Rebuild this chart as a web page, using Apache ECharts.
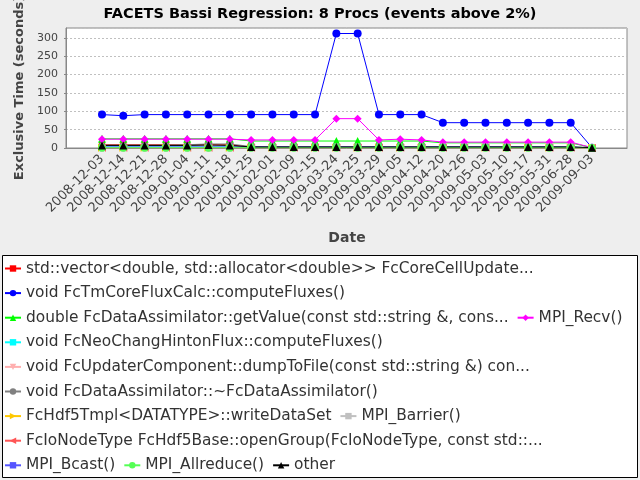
<!DOCTYPE html>
<html lang="en">
<head>
    <meta charset="UTF-8">
    <title>FACETS Bassi Regression: 8 Procs</title>
    <script src="https://cdnjs.cloudflare.com/ajax/libs/echarts/6.0.0/echarts.min.js"></script>
    <style>
        body { margin: 0; padding: 0; background: #eeeeee; }
        #chart { width: 640px; height: 480px; }
    </style>
</head>
<body>
    <div id="chart"></div>
    <script>
        // dates (categories)
        const dates = ['2008-12-03', '2008-12-14', '2008-12-21', '2008-12-28', '2009-01-04', '2009-01-11',
            '2009-01-18', '2009-01-25', '2009-02-01', '2009-02-09', '2009-02-15', '2009-03-24',
            '2009-03-25', '2009-03-29', '2009-04-05', '2009-04-12', '2009-04-20', '2009-04-26',
            '2009-05-03', '2009-05-10', '2009-05-17', '2009-05-31', '2009-06-28', '2009-09-03'];

        // series names, in legend order
        const names = [
            'std::vector<double, std::allocator<double>> FcCoreCellUpdate...',
            'void FcTmCoreFluxCalc::computeFluxes()',
            'double FcDataAssimilator::getValue(const std::string &, cons...',
            'MPI_Recv()',
            'void FcNeoChangHintonFlux::computeFluxes()',
            'void FcUpdaterComponent::dumpToFile(const std::string &) con...',
            'void FcDataAssimilator::~FcDataAssimilator()',
            'FcHdf5Tmpl<DATATYPE>::writeDataSet',
            'MPI_Barrier()',
            'FcIoNodeType FcHdf5Base::openGroup(FcIoNodeType, const std::...',
            'MPI_Bcast()',
            'MPI_Allreduce()',
            'other'
        ];

        // exclusive time (seconds)
        const coreCellUpdate = [9, 9, 9, 9, 9, 9, 9, 2, 2, 2, 2, 2, 2, 2, 2, 2, 2, 2, 2, 2, 2, 2, 2, 0];
        const tmCoreFlux = [91, 88, 91, 91, 91, 91, 91, 91, 91, 91, 91, 312, 312, 91, 91, 91, 69, 69, 69, 69, 69, 69, 69, 1];
        const getValue = [25, 25, 25, 25, 25, 25, 25, 19, 19, 19, 19, 19, 19, 19, 19, 19, 14, 14, 14, 14, 14, 14, 14, 1];
        const mpiRecv = [24, 24, 24, 24, 24, 24, 24, 22, 22, 22, 22, 80, 80, 22, 24, 22, 16, 16, 16, 16, 16, 16, 16, 1];
        const neoChangHinton = [3, 3, 3, 3, 3, 3, 3, 2, 2, 2, 2, 2, 2, 2, 2, 2, 2, 2, 2, 2, 2, 2, 2, 0];
        const dumpToFile = [1, 1, 1, 1, 1, 1, 1, 1, 1, 1, 1, 1, 1, 1, 1, 1, 1, 1, 1, 1, 1, 1, 1, 0];
        const dataAssimDtor = [8, 8, 8, 8, 9, 11, 11, 4, 2, 2, 2, 2, 2, 2, 2, 2, 2, 2, 2, 2, 2, 2, 2, 0];
        const writeDataSet = [1, 1, 1, 1, 1, 1, 1, 1, 1, 1, 1, 1, 1, 1, 1, 1, 1, 1, 1, 1, 1, 1, 1, 0];
        const mpiBarrier = [1, 1, 1, 1, 1, 1, 1, 1, 1, 1, 1, 1, 1, 1, 1, 1, 1, 1, 1, 1, 1, 1, 1, 0];
        const openGroup = [1, 1, 1, 1, 1, 1, 1, 1, 1, 1, 1, 1, 1, 1, 1, 1, 1, 1, 1, 1, 1, 1, 1, 0];
        const mpiBcast = [3, 3, 3, 3, 3, 3, 3, 3, 3, 3, 3, 3, 3, 3, 3, 3, 3, 3, 3, 3, 3, 3, 3, 0];
        const mpiAllreduce = [1, 1, 1, 1, 1, 1, 1, 1, 1, 1, 1, 1, 1, 1, 1, 1, 1, 1, 1, 1, 1, 1, 1, 0];
        const other = [7, 7, 7, 7, 7, 8, 7, 3, 3, 3, 3, 3, 3, 3, 3, 3, 3, 3, 3, 3, 3, 3, 3, 1];

        const values = [coreCellUpdate, tmCoreFlux, getValue, mpiRecv, neoChangHinton, dumpToFile,
            dataAssimDtor, writeDataSet, mpiBarrier, openGroup, mpiBcast, mpiAllreduce, other];

        // jfreechart-like palette and shapes
        const colors = ['#ff0000', '#0000ff', '#00ff00', '#ff00ff', '#00ffff', '#ffafaf', '#808080',
            '#ffc800', '#c0c0c0', '#ff5555', '#5555ff', '#55ff55', '#000000'];
        const shapes = [
            { symbol: 'rect', size: 6, rotate: 0 },
            { symbol: 'circle', size: 8, rotate: 0 },
            { symbol: 'triangle', size: 8, rotate: 0 },
            { symbol: 'diamond', size: 8, rotate: 0 },
            { symbol: 'rect', size: [8, 4], rotate: 0 },
            { symbol: 'triangle', size: 8, rotate: 180 },
            { symbol: 'circle', size: [8, 4], rotate: 0 },
            { symbol: 'triangle', size: 8, rotate: -90 },
            { symbol: 'rect', size: [4, 8], rotate: 0 },
            { symbol: 'triangle', size: 8, rotate: 90 },
            { symbol: 'rect', size: 6, rotate: 0 },
            { symbol: 'circle', size: 8, rotate: 0 },
            { symbol: 'triangle', size: 8, rotate: 0 }
        ];

        // legend rows (indices into names)
        const legendRows = [[0], [1], [2, 3], [4], [5], [6], [7, 8], [9], [10, 11, 12]];

        const font = 'DejaVu Sans';
        const yMax = 327;

        const chart = echarts.init(document.getElementById('chart'));

        const series = names.map((name, i) => ({
            name: name,
            type: 'line',
            xAxisIndex: 1,
            yAxisIndex: 1,
            data: values[i],
            symbol: shapes[i].symbol,
            symbolSize: shapes[i].size,
            symbolRotate: shapes[i].rotate,
            showAllSymbol: true,
            color: colors[i],
            lineStyle: { width: 1, color: colors[i] },
            itemStyle: { color: colors[i] },
            emphasis: { disabled: true },
            animation: false
        }));

        const legends = legendRows.map((row, r) => ({
            left: 4,
            top: 261 + r * 24.6,
            padding: 0,
            itemGap: 8,
            itemWidth: 16,
            itemHeight: 8,
            data: row.map(i => names[i]),
            textStyle: { fontFamily: font, fontSize: 15.4, color: '#333' },
            selectedMode: false
        }));

        const option = {
            backgroundColor: '#eeeeee',
            animation: false,
            title: {
                text: 'FACETS Bassi Regression: 8 Procs (events above 2%)',
                left: 'center',
                top: 2,
                textStyle: { fontFamily: font, fontSize: 14.5, fontWeight: 'bold', color: '#000' }
            },
            legend: legends,
            graphic: [{
                type: 'rect',
                shape: { x: 2.5, y: 255.5, width: 635, height: 222 },
                style: { fill: '#fff', stroke: '#000', lineWidth: 1 },
                z: -1
            }],
            grid: [
                // plot frame
                { left: 66, right: 13, top: 28, height: 120, show: true, backgroundColor: '#fff',
                  borderColor: '#888', borderWidth: 1, outerBoundsMode: 'none', containLabel: false },
                // data area (category margins)
                { left: 102, right: 48, top: 28, height: 120, outerBoundsMode: 'none', containLabel: false }
            ],
            xAxis: [
                {
                    gridIndex: 0, type: 'value', min: 0, max: 1, offset: 4,
                    axisLine: { show: true, lineStyle: { color: '#888' } },
                    axisTick: { show: false }, axisLabel: { show: false }, splitLine: { show: false }
                },
                {
                    gridIndex: 1, type: 'category', data: dates, boundaryGap: false,
                    axisLine: { show: false }, axisTick: { show: false },
                    axisLabel: { rotate: 45, interval: 0, margin: 9, fontFamily: font, fontSize: 13, color: '#444' },
                    name: 'Date', nameLocation: 'middle', nameGap: 83,
                    nameTextStyle: { fontFamily: font, fontSize: 14, fontWeight: 'bold', color: '#444' }
                }
            ],
            yAxis: [
                {
                    gridIndex: 0, type: 'value', min: 0, max: yMax, interval: 50, offset: 4,
                    axisLine: { show: true, lineStyle: { color: '#888' } },
                    axisTick: { show: true, length: 2, lineStyle: { color: '#888' } },
                    axisLabel: { showMaxLabel: false, margin: 4, fontFamily: font, fontSize: 11, color: '#444' },
                    splitLine: { show: true, lineStyle: { color: '#c0c0c0', type: [2, 2], width: 1 } },
                    name: 'Exclusive Time (seconds)', nameLocation: 'middle', nameGap: 35,
                    nameTextStyle: { fontFamily: font, fontSize: 13, fontWeight: 'bold', color: '#444' }
                },
                { gridIndex: 1, type: 'value', min: 0, max: yMax, show: false }
            ],
            series: series
        };

        chart.setOption(option);
    </script>
</body>
</html>
